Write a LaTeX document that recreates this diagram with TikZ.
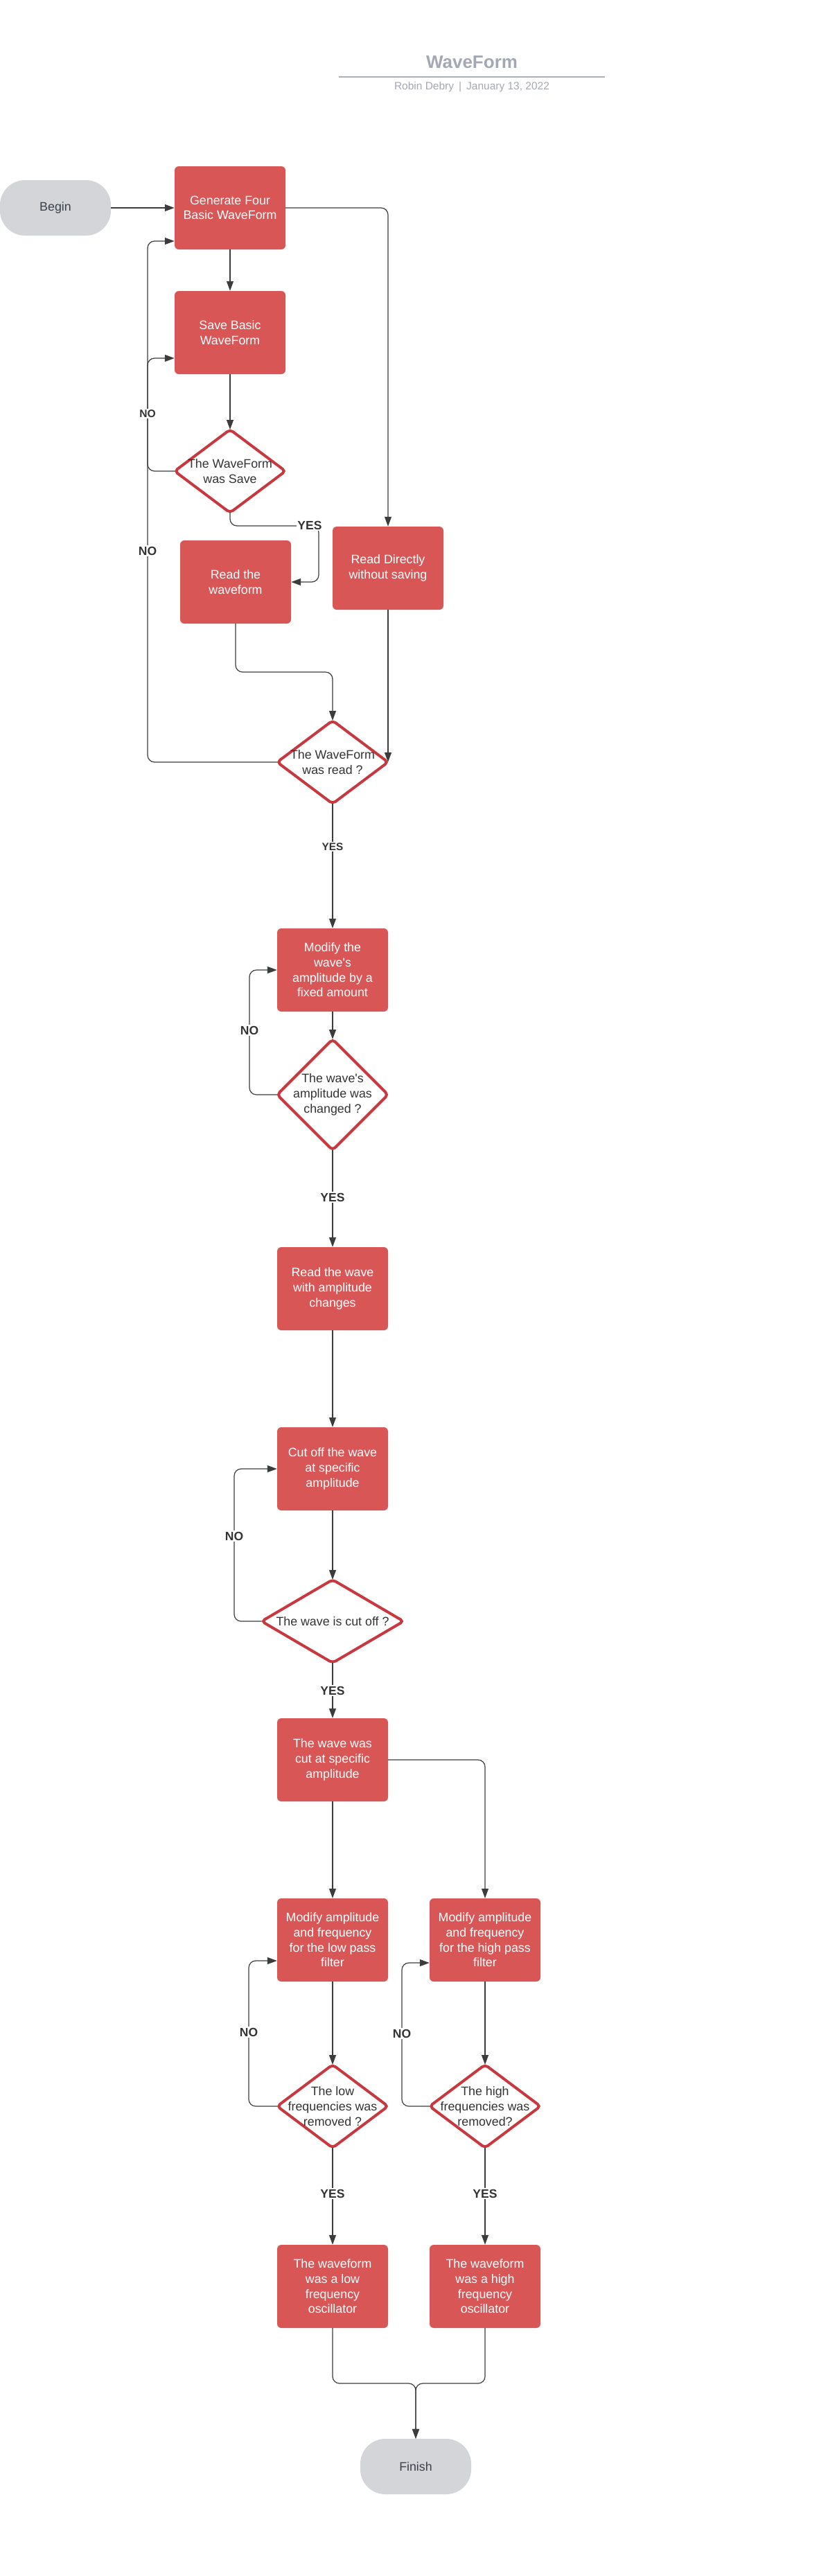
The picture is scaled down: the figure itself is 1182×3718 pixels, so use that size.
\documentclass[tikz,border=0pt]{standalone}
\usepackage{fontspec}
\setmainfont{Liberation Sans}
\usetikzlibrary{arrows.meta,shapes.geometric}
\definecolor{boxred}{HTML}{D95656}
\definecolor{decred}{HTML}{C8383F}
\definecolor{termgray}{HTML}{D3D5D8}
\definecolor{termtext}{HTML}{3B414B}
\definecolor{titlegray}{HTML}{A3A8B3}
\definecolor{rulegray}{HTML}{A9AEB7}
\definecolor{linegray}{HTML}{3C3C3C}
\definecolor{darktext}{HTML}{333333}
\newcommand\myNodeFont{\fontsize{17.8}{21.7}\selectfont}
\newcommand\myLblFont{\fontsize{17.5}{20}\selectfont\bfseries}
\newcommand\mySmallLblFont{\fontsize{15.3}{18}\selectfont\bfseries}
\begin{document}
\begin{tikzpicture}[x=1pt,y=-1pt,
  box/.style={rectangle, rounded corners=6pt, fill=boxred, minimum width=160pt, minimum height=120pt, inner sep=0pt, text=white, align=center, font=\myNodeFont},
  term/.style={rectangle, rounded corners=36pt, fill=termgray, minimum width=160pt, minimum height=80pt, inner sep=0pt, text=termtext, font=\myNodeFont},
  dec/.style={diamond, draw=decred, line width=4pt, fill=white, rounded corners=5pt, inner sep=0pt, outer sep=0pt, minimum width=160pt, minimum height=120pt},
  dectxt/.style={text=darktext, align=center, font=\myNodeFont, inner sep=0pt},
  lbl/.style={fill=white, inner sep=1.5pt, text=darktext, font=\myLblFont},
  smalllbl/.style={fill=white, inner sep=1.5pt, text=darktext, font=\mySmallLblFont},
  conn/.style={draw=linegray, line width=1.2pt, rounded corners=10pt, -{Triangle[length=14pt,width=10pt]}},
  plainconn/.style={draw=linegray, line width=1.2pt, rounded corners=10pt}
]
\useasboundingbox (0,0) rectangle (1182,3718);

% title
\node[text=titlegray, font=\fontsize{26}{30}\selectfont\bfseries] (title) at (681,90) {WaveForm};
\coordinate (ruleL) at (489,111);
\coordinate (ruleR) at (873,111);
\draw[rulegray, line width=2.5pt] (ruleL) -- (ruleR);
\node[text=titlegray, font=\fontsize{15.5}{18}\selectfont] (sub) at (681,126) {Robin Debry\hspace{7pt}|\hspace{7pt}January 13, 2022};

% nodes
\node[term] (begin) at (80,300) {Begin};
\node[box] (gen) at (332,300) {Generate Four\\Basic WaveForm};
\node[box] (save) at (332,480) {Save Basic\\WaveForm};
\node[dec, label={[dectxt]center:{The WaveForm\\was Save}}] (d1) at (332,680) {};
\node[box] (read) at (340,840) {Read the\\waveform};
\node[box] (rdir) at (560,820) {Read Directly\\without saving};
\node[dec, label={[dectxt]center:{The WaveForm\\was read ?}}] (d2) at (480,1100) {};
\node[box] (mod) at (480,1400) {Modify the\\wave\textquotesingle s\\amplitude by a\\fixed amount};
\node[dec, minimum height=160pt, label={[dectxt]center:{The wave\textquotesingle s\\amplitude was\\changed ?}}] (d3) at (480,1580) {};
\node[box] (ramp) at (480,1860) {Read the wave\\with amplitude\\changes};
\node[box] (cut) at (480,2120) {Cut off the wave\\at specific\\amplitude};
\node[dec, minimum width=205pt, label={[dectxt]center:{The wave is cut off ?}}] (d4) at (480,2340) {};
\node[box] (cutat) at (480,2540) {The wave was\\cut at specific\\amplitude};
\node[box] (low) at (480,2800) {Modify amplitude\\and frequency\\for the low pass\\filter};
\node[box] (high) at (700,2800) {Modify amplitude\\and frequency\\for the high pass\\filter};
\node[dec, label={[dectxt]center:{The low\\frequencies was\\removed ?}}] (d5) at (480,3040) {};
\node[dec, label={[dectxt]center:{The high\\frequencies was\\removed?}}] (d6) at (700,3040) {};
\node[box] (lres) at (480,3300) {The waveform\\was a low\\frequency\\oscillator};
\node[box] (hres) at (700,3300) {The waveform\\was a high\\frequency\\oscillator};
\node[term] (fin) at (600,3560) {Finish};

% helper coordinates
\coordinate (k1) at (213,517);
\coordinate (k2) at (213,348);
\coordinate (c1) at (460,759);
\coordinate (c2) at (480,970);
\coordinate (k3) at (360,1400);
\coordinate (k4) at (338,2120);
\coordinate (k5) at (359,2830);
\coordinate (k6) at (580,2833);
\coordinate (m) at (600,3440);

% connectors
\draw[conn] (begin.east) -- (gen.west);
\draw[conn] (gen.south) -- (save.north);
\draw[conn] (gen.east) -| (rdir.north);
\draw[conn] (save.south) -- (d1.north);
\draw[conn] (d1.west) -| (k1) -- (k1 -| save.west);
\draw[conn] (d1.south) |- (c1) |- (read.east);
\draw[conn] (read.south) |- (c2) -- (d2.north);
\draw[conn] (rdir.south) -- (rdir.south |- d2.east);
\draw[conn] (d2.west) -| (k2) -- (k2 -| gen.west);
\draw[conn] (d2.south) -- (mod.north);
\draw[conn] (mod.south) -- (d3.north);
\draw[conn] (d3.west) -| (k3) -- (mod.west);
\draw[conn] (d3.south) -- (ramp.north);
\draw[conn] (ramp.south) -- (cut.north);
\draw[conn] (cut.south) -- (d4.north);
\draw[conn] (d4.west) -| (k4) -- (cut.west);
\draw[conn] (d4.south) -- (cutat.north);
\draw[conn] (cutat.south) -- (low.north);
\draw[conn] (cutat.east) -| (high.north);
\draw[conn] (low.south) -- (d5.north);
\draw[conn] (high.south) -- (d6.north);
\draw[conn] (d5.west) -| (k5) -- (k5 -| low.west);
\draw[conn] (d6.west) -| (k6) -- (k6 -| high.west);
\draw[conn] (d5.south) -- (lres.north);
\draw[conn] (d6.south) -- (hres.north);
\draw[conn] (lres.south) |- (m) -- (fin.north);
\draw[conn] (hres.south) |- (m) -- (fin.north);

% labels
\node[lbl, font=\fontsize{15.6}{18}\selectfont\bfseries] (no1) at (213,597) {NO};
\node[lbl] (no2) at (213,795) {NO};
\node[lbl] (yes1) at (447,758) {YES};
\node[smalllbl] (yes2) at (480,1222) {YES};
\node[lbl] (no3) at (360,1487) {NO};
\node[lbl] (yes3) at (480,1728) {YES};
\node[lbl] (no4) at (338,2217) {NO};
\node[lbl] (yes4) at (480,2440) {YES};
\node[lbl] (no5) at (359,2933) {NO};
\node[lbl] (no6) at (580,2935) {NO};
\node[lbl] (yes5) at (480,3166) {YES};
\node[lbl] (yes6) at (700,3166) {YES};
\end{tikzpicture}
\end{document}
